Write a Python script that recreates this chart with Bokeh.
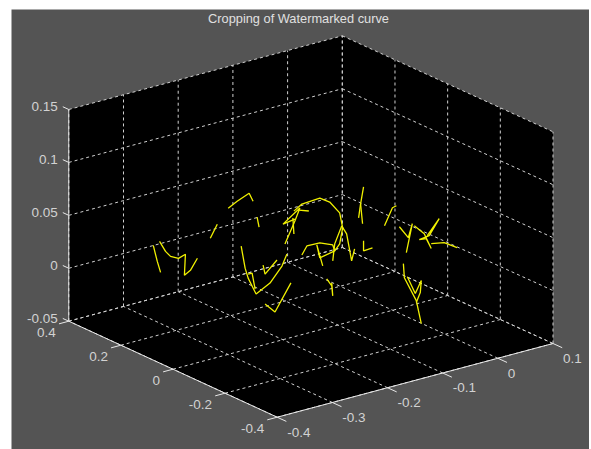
import numpy as np
from bokeh.plotting import figure
from bokeh.models import Range1d
from bokeh.core.properties import value
from bokeh.embed import file_html
from bokeh.resources import INLINE

title = "Cropping of Watermarked curve"
x_ticks = [-0.4, -0.3, -0.2, -0.1, 0, 0.1]
y_ticks = [0.4, 0.2, 0, -0.2, -0.4]
z_ticks = [-0.05, 0, 0.05, 0.1, 0.15]
x_labels = ["-0.4", "-0.3", "-0.2", "-0.1", "0", "0.1"]
y_labels = ["0.4", "0.2", "0", "-0.2", "-0.4"]
z_labels = ["-0.05", "0", "0.05", "0.1", "0.15"]

# watermarked curve fragments, as (x, z) read on the plane y = 0
curve_x = [
    [-.4359, -.4286, -.4226],
    [-.4245, -.4136, -.4045, -.3900, -.3774, -.3792, -.3683, -.3556],
    [-.2995, -.2832, -.2614, -.2542],
    [-.3194, -.3321],
    [-.2469, -.2433],
    [-.2759, -.2687, -.2632, -.2487, -.2234, -.2016, -.1926],
    [-.2632, -.2560, -.2505],
    [-.2360, -.2324, -.2107],
    [-.2324, -.2143, -.1853],
    [-.1962, -.1781, -.1690, -.1998, -.1781],
    [-.1817, -.1799],
    [-.1799, -.1654, -.1328, -.1147, -.0966, -.0911, -.0966, -.1056],
    [-.1708, -.1527],
    [-.1654, -.1563, -.1328, -.1092, -.1056, -.1328, -.1382, -.1274],
    [-.1092, -.1056, -.0929, -.0839, -.0748, -.0694],
    [-.0531, -.0585, -.0549],
    [-.0621, -.0585],
    [-.0531, -.0531, -.0368],
    [.0067, -.0005, -.0150],
    [.0121, .0284, .0357, .0248],
    [.0393, .0574, .0701, .0611, .0484, .0665, .0846, .0629],
    [.0701, .0937, .1172],
    [.0194, .0212, .0429, .0520],
    [.0266, .0411, .0520, .0502, .0429],
    [-.1201, -.1110, -.1092, -.1110],
]
curve_z = [
    [.0719, .0558, .0446],
    [.0741, .0632, .0572, .0533, .0554, .0358, .0390, .0486],
    [.0880, .0924, .0970, .0884],
    [.0757, .0642],
    [.0723, .0624],
    [.0489, .0272, .0170, -.0001, .0068, .0198, .0299],
    [.0208, .0207, .0049],
    [.0255, .0165, .0268],
    [-.0118, -.0218, .0016],
    [.0398, .0591, .0701, .0592, .0609],
    [.0624, .0470],
    [.0687, .0733, .0745, .0682, .0554, .0405, .0261, .0208],
    [.0684, .0650],
    [.0252, .0325, .0321, .0269, .0208, .0179, .0309, .0096],
    [.0118, .0274, .0426, .0338, .0071, .0177],
    [.0739, .0586, .0393],
    [.0459, .0586],
    [.0230, .0135, .0141],
    [.0478, .0469, .0319],
    [.0272, .0146, .0268, .0009],
    [.0244, .0143, -.0015, .0091, .0099, .0112, .0248, .0117],
    [.0032, .0009, -.0071],
    [-.0087, -.0222, -.0469, -.0698],
    [-.0220, -.0400, -.0292, -.0403, -.0487],
    [-.0037, -.0115, -.0212, -.0087],
]

XA, XB = x_ticks[0], x_ticks[-1]
YA, YB = y_ticks[-1], y_ticks[0]
ZA, ZB = z_ticks[0], z_ticks[-1]


def proj(x, y, z):
    """Fixed view of the 3-D box onto the picture plane, with slight perspective."""
    x, y, z = np.asarray(x, float), np.asarray(y, float), np.asarray(z, float)
    u = 276.7 + (x - XA) * (551.6 - 5.75 * (y - YA)) - (y - YA) * 260.5
    v = 416.7 - (x - XA) * 147.4 - (y - YA) * 120 - (z - ZA) * 1058.5
    return u, v


def seg(a, b):
    u, v = proj(*zip(a, b))
    return list(u), list(v)


p = figure(width=589, height=449, x_range=Range1d(11, 589), y_range=Range1d(449, 9),
           toolbar_location=None, output_backend="svg",
           min_border_left=11, min_border_right=0, min_border_top=9, min_border_bottom=0,
           background_fill_color="#545454", border_fill_color="white", outline_line_color=None)
p.xaxis.visible = False
p.yaxis.visible = False
p.grid.visible = False

# black walls and floor
hex_pts = [(XA, YB, ZA), (XA, YB, ZB), (XB, YB, ZB), (XB, YA, ZB), (XB, YA, ZA), (XA, YA, ZA)]
hu, hv = proj(*zip(*hex_pts))
p.patch(list(hu), list(hv), fill_color="black", line_color=None)

# dashed grid
gu, gv = [], []
for x in x_ticks:
    for a, b in [((x, YA, ZA), (x, YB, ZA)), ((x, YB, ZA), (x, YB, ZB))]:
        u, v = seg(a, b); gu.append(u); gv.append(v)
for y in y_ticks:
    for a, b in [((XA, y, ZA), (XB, y, ZA)), ((XB, y, ZA), (XB, y, ZB))]:
        u, v = seg(a, b); gu.append(u); gv.append(v)
for z in z_ticks:
    for a, b in [((XA, YB, z), (XB, YB, z)), ((XB, YB, z), (XB, YA, z))]:
        u, v = seg(a, b); gu.append(u); gv.append(v)
p.multi_line(gu, gv, line_color="#d0d0d0", line_width=1, line_dash="3 3")

# curve
cu, cv = [], []
for xs, zs in zip(curve_x, curve_z):
    u, v = proj(xs, np.zeros(len(xs)), zs)
    cu.append(list(u)); cv.append(list(v))
p.multi_line(cu, cv, line_color="#f0f000", line_width=1.3)

# solid axes and ticks
au, av = [], []
for a, b in [((XA, YB, ZA), (XA, YB, ZB)), ((XA, YB, ZA), (XA, YA, ZA)), ((XA, YA, ZA), (XB, YA, ZA))]:
    u, v = seg(a, b); au.append(u); av.append(v)
for x in x_ticks:
    u, v = seg((x, YA, ZA), (x, YA - 0.035, ZA)); au.append(u); av.append(v)
for y in y_ticks:
    u, v = seg((XA, y, ZA), (XA - 0.018, y, ZA)); au.append(u); av.append(v)
for z in z_ticks:
    u, v = seg((XA, YB, z), (XA, YB + 0.023, z)); au.append(u); av.append(v)
p.multi_line(au, av, line_color="#e8e8e8", line_width=1)

# labels
font = value("Liberation Sans")
tc = "#d2d2d2"
u, v = proj(x_ticks, [YA] * len(x_ticks), [ZA] * len(x_ticks))
p.text(u, v, text=x_labels, text_font=font, text_font_size="13.5px", text_color=tc,
       text_align="left", text_baseline="middle", x_offset=10, y_offset=15)
u, v = proj([XA] * len(y_ticks), y_ticks, [ZA] * len(y_ticks))
p.text(u, v, text=y_labels, text_font=font, text_font_size="13.5px", text_color=tc,
       text_align="right", text_baseline="middle", x_offset=-13, y_offset=11)
u, v = proj([XA] * len(z_ticks), [YB] * len(z_ticks), z_ticks)
p.text(u, v, text=z_labels, text_font=font, text_font_size="13.5px", text_color=tc,
       text_align="right", text_baseline="middle", x_offset=-11, y_offset=-3)
p.text([298], [18], text=[title], text_font=font, text_font_size="12.8px", text_color="#e0e0e0",
       text_align="center", text_baseline="middle")

open("out.html", "w").write(file_html(p, INLINE))
